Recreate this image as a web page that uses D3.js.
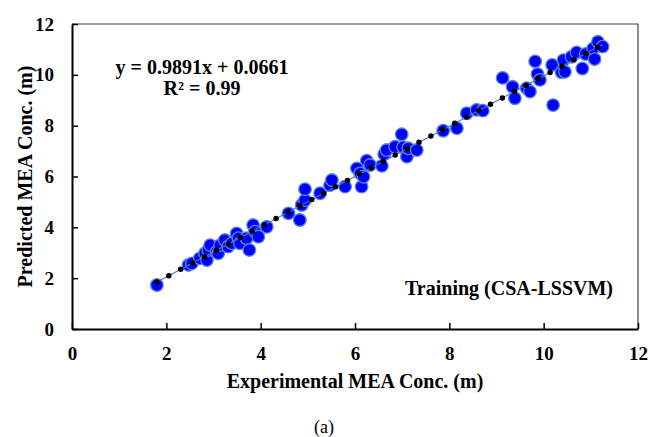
<!DOCTYPE html>
<html>
<head>
<meta charset="utf-8">
<script src="https://cdn.jsdelivr.net/npm/d3@7"></script>
<style>
  body { margin: 0; background: #fff; }
  text { font-family: "Liberation Serif", "Times New Roman", serif; }
</style>
</head>
<body>
<div id="chart"></div>
<script>
// experimental (x) vs predicted (y)
const experimental = [1.80, 2.47, 2.54, 2.71, 2.82, 2.86, 2.89, 2.93, 3.07, 3.10,
  3.14, 3.24, 3.31, 3.39, 3.49, 3.53, 3.56, 3.70, 3.76, 3.84,
  3.88, 3.95, 4.13, 4.59, 4.83, 4.87, 4.94, 4.94, 5.26, 5.47,
  5.51, 5.79, 6.04, 6.11, 6.14, 6.18, 6.25, 6.32, 6.57, 6.62,
  6.67, 6.85, 6.99, 7.02, 7.10, 7.13, 7.31, 7.87, 8.16, 8.37,
  8.58, 8.71, 9.13, 9.34, 9.39, 9.64, 9.71, 9.82, 9.87, 9.92,
  10.20, 10.18, 10.38, 10.42, 10.45, 10.59, 10.70, 10.82, 10.89, 11.05,
  11.08, 11.15, 11.25];
const predicted = [1.73, 2.52, 2.58, 2.78, 2.98, 2.71, 3.11, 3.30, 3.04, 2.98,
  3.30, 3.50, 3.24, 3.37, 3.76, 3.57, 3.37, 3.57, 3.11, 4.09,
  3.83, 3.63, 4.02, 4.55, 4.29, 4.88, 5.07, 5.50, 5.34, 5.66,
  5.86, 5.60, 6.32, 6.12, 5.60, 5.99, 6.62, 6.45, 6.42, 6.88,
  7.04, 7.17, 7.66, 7.15, 6.78, 7.11, 7.04, 7.80, 7.90, 8.49,
  8.62, 8.59, 9.88, 9.53, 9.08, 9.47, 9.34, 10.53, 10.03, 9.80,
  8.81, 10.39, 10.10, 10.58, 10.12, 10.71, 10.88, 10.25, 10.82, 11.04,
  10.62, 11.30, 11.11];

const slope = 0.9891, intercept = 0.0661;
const xTicks = [0, 2, 4, 6, 8, 10, 12];
const yTicks = [0, 2, 4, 6, 8, 10, 12];

const width = 650, height = 437;
const margin = {top: 24, right: 12, bottom: 108, left: 72};

const svg = d3.select('#chart')
  .append('svg')
  .attr('width', width)
  .attr('height', height);

const x = d3.scaleLinear().domain([0, 12]).range([margin.left, width - margin.right]);
const y = d3.scaleLinear().domain([0, 12]).range([height - margin.bottom, margin.top]);

// plot area border (top / right)
svg.append('path')
  .attr('d', `M${x(0)},${y(12)}H${x(12)}V${y(0)}`)
  .attr('fill', 'none')
  .attr('stroke', '#404040')
  .attr('stroke-width', 1.2);

// axes with inward ticks
const xAxis = svg.append('g')
  .attr('transform', `translate(0,${y(0)})`)
  .call(d3.axisBottom(x).tickValues(xTicks).tickSizeInner(-6).tickSizeOuter(0).tickPadding(18));
const yAxis = svg.append('g')
  .attr('transform', `translate(${x(0)},0)`)
  .call(d3.axisLeft(y).tickValues(yTicks).tickSizeInner(-6).tickSizeOuter(0).tickPadding(18));

[xAxis, yAxis].forEach(g => {
  g.select('.domain').attr('stroke', '#000').attr('stroke-width', 2);
  g.selectAll('.tick line').attr('stroke', '#000').attr('stroke-width', 1.5);
  g.selectAll('.tick text')
    .attr('fill', '#000')
    .style('font-family', '"Liberation Serif", serif')
    .style('font-size', '19px')
    .style('font-weight', 'bold');
});

// points
svg.append('g')
  .selectAll('circle')
  .data(experimental)
  .enter()
  .append('circle')
  .attr('cx', d => x(d))
  .attr('cy', (d, i) => y(predicted[i]))
  .attr('r', 6.3)
  .attr('fill', '#0000ff')
  .attr('stroke', '#5a86dc')
  .attr('stroke-width', 1.3);

// trendline: faint blue under black round dots
const xs = [d3.min(experimental), d3.max(experimental)];
const line = d3.line().x(d => x(d)).y(d => y(slope * d + intercept));
svg.append('path')
  .datum(xs)
  .attr('d', line)
  .attr('stroke', '#4a78d0')
  .attr('stroke-width', 1.2)
  .attr('fill', 'none');
svg.append('path')
  .datum(xs)
  .attr('d', line)
  .attr('stroke', '#000')
  .attr('stroke-width', 5.5)
  .attr('stroke-linecap', 'round')
  .attr('stroke-dasharray', '0,13.5')
  .attr('fill', 'none');

// texts
svg.append('text')
  .attr('x', 202).attr('y', 74)
  .attr('text-anchor', 'middle')
  .style('font-size', '20px').style('font-weight', 'bold')
  .text('y = 0.9891x + 0.0661');
svg.append('text')
  .attr('x', 202).attr('y', 95)
  .attr('text-anchor', 'middle')
  .style('font-size', '20px').style('font-weight', 'bold')
  .text('R² = 0.99');

svg.append('text')
  .attr('x', 613).attr('y', 295)
  .attr('text-anchor', 'end')
  .style('font-size', '20px').style('font-weight', 'bold')
  .text('Training (CSA-LSSVM)');

svg.append('text')
  .attr('x', (x(0) + x(12)) / 2).attr('y', 388)
  .attr('text-anchor', 'middle')
  .style('font-size', '20px').style('font-weight', 'bold')
  .text('Experimental MEA Conc. (m)');

svg.append('text')
  .attr('transform', `translate(32,${(y(0) + y(12)) / 2}) rotate(-90)`)
  .attr('text-anchor', 'middle')
  .style('font-size', '20px').style('font-weight', 'bold')
  .text('Predicted MEA Conc. (m)');

svg.append('text')
  .attr('x', 324).attr('y', 433)
  .attr('text-anchor', 'middle')
  .style('font-size', '18px')
  .text('(a)');
</script>
</body>
</html>
